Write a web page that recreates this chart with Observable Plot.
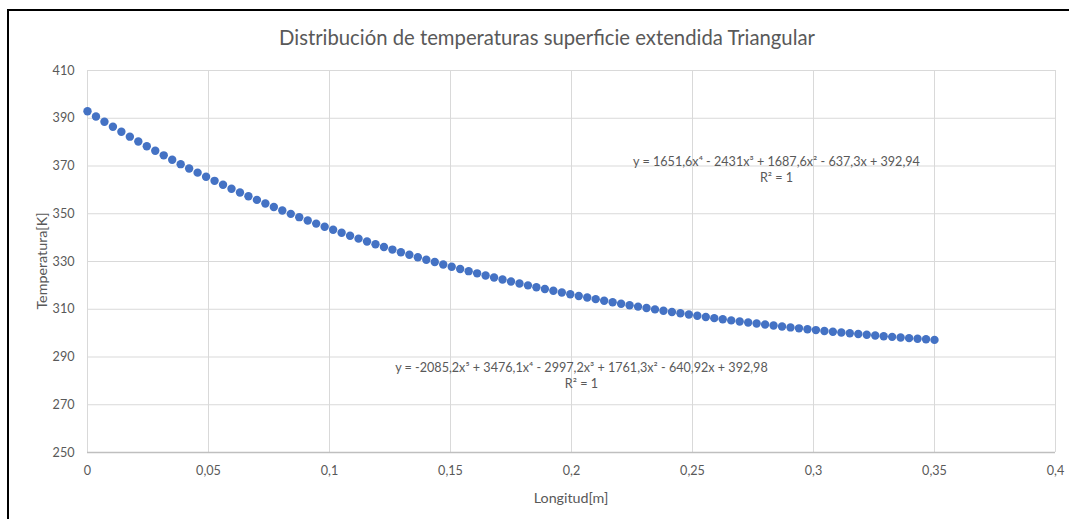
<!DOCTYPE html>
<html>
<head>
<meta charset="utf-8">
<script src="https://cdn.jsdelivr.net/npm/d3@7"></script>
<script src="https://cdn.jsdelivr.net/npm/@observablehq/plot@0.6"></script>
<style>
  html, body { margin: 0; padding: 0; background: #fff; }
  #wrap { position: relative; width: 1069px; height: 519px; overflow: hidden; font-family: Lato, "Open Sans", sans-serif; color: #595959; }
  #frame { position: absolute; left: 7px; top: 9px; width: 1070px; height: 520px; border-left: 2px solid #000; border-top: 2px solid #000; box-sizing: border-box; }
  #title { position: absolute; left: 0; width: 1094px; top: 25px; text-align: center; font-size: 20.3px; line-height: 24px; }
  #ylab { position: absolute; left: 41px; top: 261px; transform: translate(-50%, -50%) rotate(-90deg); font-size: 14.3px; white-space: nowrap; }
  #xlab { position: absolute; left: 571px; top: 497px; transform: translate(-50%, -50%); font-size: 14.3px; white-space: nowrap; }
  #chart { position: absolute; left: 0; top: 0; }
</style>
</head>
<body>
<div id="wrap">
  <div id="chart"></div>
  <div id="frame"></div>
  <div id="title">Distribución de temperaturas superficie extendida Triangular</div>
  <div id="ylab">Temperatura[K]</div>
  <div id="xlab">Longitud[m]</div>
</div>
<script>
// Longitud [m] (step: 101 points from 0 to 0.35)
const longitud = [
  0, 0.0035, 0.007, 0.0105, 0.014, 0.0175, 0.021, 0.0245, 0.028, 0.0315,
  0.035, 0.0385, 0.042, 0.0455, 0.049, 0.0525, 0.056, 0.0595, 0.063, 0.0665,
  0.07, 0.0735, 0.077, 0.0805, 0.084, 0.0875, 0.091, 0.0945, 0.098, 0.1015,
  0.105, 0.1085, 0.112, 0.1155, 0.119, 0.1225, 0.126, 0.1295, 0.133, 0.1365,
  0.14, 0.1435, 0.147, 0.1505, 0.154, 0.1575, 0.161, 0.1645, 0.168, 0.1715,
  0.175, 0.1785, 0.182, 0.1855, 0.189, 0.1925, 0.196, 0.1995, 0.203, 0.2065,
  0.21, 0.2135, 0.217, 0.2205, 0.224, 0.2275, 0.231, 0.2345, 0.238, 0.2415,
  0.245, 0.2485, 0.252, 0.2555, 0.259, 0.2625, 0.266, 0.2695, 0.273, 0.2765,
  0.28, 0.2835, 0.287, 0.2905, 0.294, 0.2975, 0.301, 0.3045, 0.308, 0.3115,
  0.315, 0.3185, 0.322, 0.3255, 0.329, 0.3325, 0.336, 0.3395, 0.343, 0.3465,
  0.35
];
// Temperatura [K]
const temperatura = [
  392.94, 390.73, 388.56, 386.43, 384.34, 382.29, 380.28, 378.30, 376.37, 374.47,
  372.60, 370.77, 368.98, 367.22, 365.49, 363.79, 362.13, 360.50, 358.91, 357.34,
  355.80, 354.30, 352.82, 351.38, 349.96, 348.57, 347.20, 345.87, 344.56, 343.27,
  342.02, 340.78, 339.58, 338.39, 337.23, 336.10, 334.99, 333.90, 332.83, 331.78,
  330.76, 329.76, 328.77, 327.81, 326.87, 325.95, 325.04, 324.16, 323.29, 322.45,
  321.62, 320.80, 320.01, 319.23, 318.47, 317.72, 316.99, 316.28, 315.58, 314.90,
  314.23, 313.58, 312.94, 312.31, 311.70, 311.10, 310.51, 309.94, 309.38, 308.83,
  308.30, 307.78, 307.27, 306.77, 306.28, 305.81, 305.34, 304.89, 304.44, 304.01,
  303.59, 303.18, 302.78, 302.39, 302.01, 301.63, 301.27, 300.92, 300.58, 300.25,
  299.92, 299.61, 299.30, 299.00, 298.72, 298.44, 298.17, 297.90, 297.65, 297.41,
  297.17
];
const xTicks = [0, 0.05, 0.1, 0.15, 0.2, 0.25, 0.3, 0.35, 0.4];
const xTickLabels = ["0", "0,05", "0,1", "0,15", "0,2", "0,25", "0,3", "0,35", "0,4"];
const yTicks = [250, 270, 290, 310, 330, 350, 370, 390, 410];

// Trendline labels (anchored in data coordinates)
const eqText = [
  "y = 1651,6x⁴ - 2431x³ + 1687,6x² - 637,3x + 392,94",
  "R² = 1",
  "y = -2085,2x⁵ + 3476,1x⁴ - 2997,2x³ + 1761,3x² - 640,92x + 392,98",
  "R² = 1"
];
const eqX = [0.2847, 0.2847, 0.2041, 0.2041];
const eqY = [371.5, 364.8, 285.4, 278.7];

const points = longitud.map((x, i) => ({x, y: temperatura[i]}));
const eqs = eqText.map((t, i) => ({t, x: eqX[i], y: eqY[i]}));

const chart = Plot.plot({
  width: 1069,
  height: 519,
  marginLeft: 87,
  marginRight: 14,
  marginTop: 70,
  marginBottom: 67,
  style: {fontFamily: "Lato, 'Open Sans', sans-serif", fontSize: "12px", color: "#595959", background: "transparent"},
  x: {domain: [0, 0.4], ticks: xTicks, tickFormat: (d) => xTickLabels[xTicks.indexOf(d)], label: null},
  y: {domain: [250, 410], ticks: yTicks, label: null},
  marks: [
    Plot.gridX(xTicks, {stroke: "#d9d9d9", strokeOpacity: 1, strokeWidth: 1}),
    Plot.gridY(yTicks, {stroke: "#d9d9d9", strokeOpacity: 1, strokeWidth: 1}),
    Plot.ruleY([250], {stroke: "#bfbfbf", strokeWidth: 1.3}),
    Plot.axisX(xTicks, {tickSize: 0, tickPadding: 14, tickFormat: (d) => xTickLabels[xTicks.indexOf(d)], fill: "#595959", fontSize: 12.6}),
    Plot.axisY(yTicks, {tickSize: 0, tickPadding: 13, fill: "#595959", fontSize: 12.6}),
    Plot.dot(points, {x: "x", y: "y", r: 4.2, fill: "#4472c4", stroke: "none"}),
    Plot.text(eqs, {x: "x", y: "y", text: "t", fill: "#595959", fontSize: 12.6, textAnchor: "middle"})
  ]
});
document.getElementById("chart").appendChild(chart);
</script>
</body>
</html>
